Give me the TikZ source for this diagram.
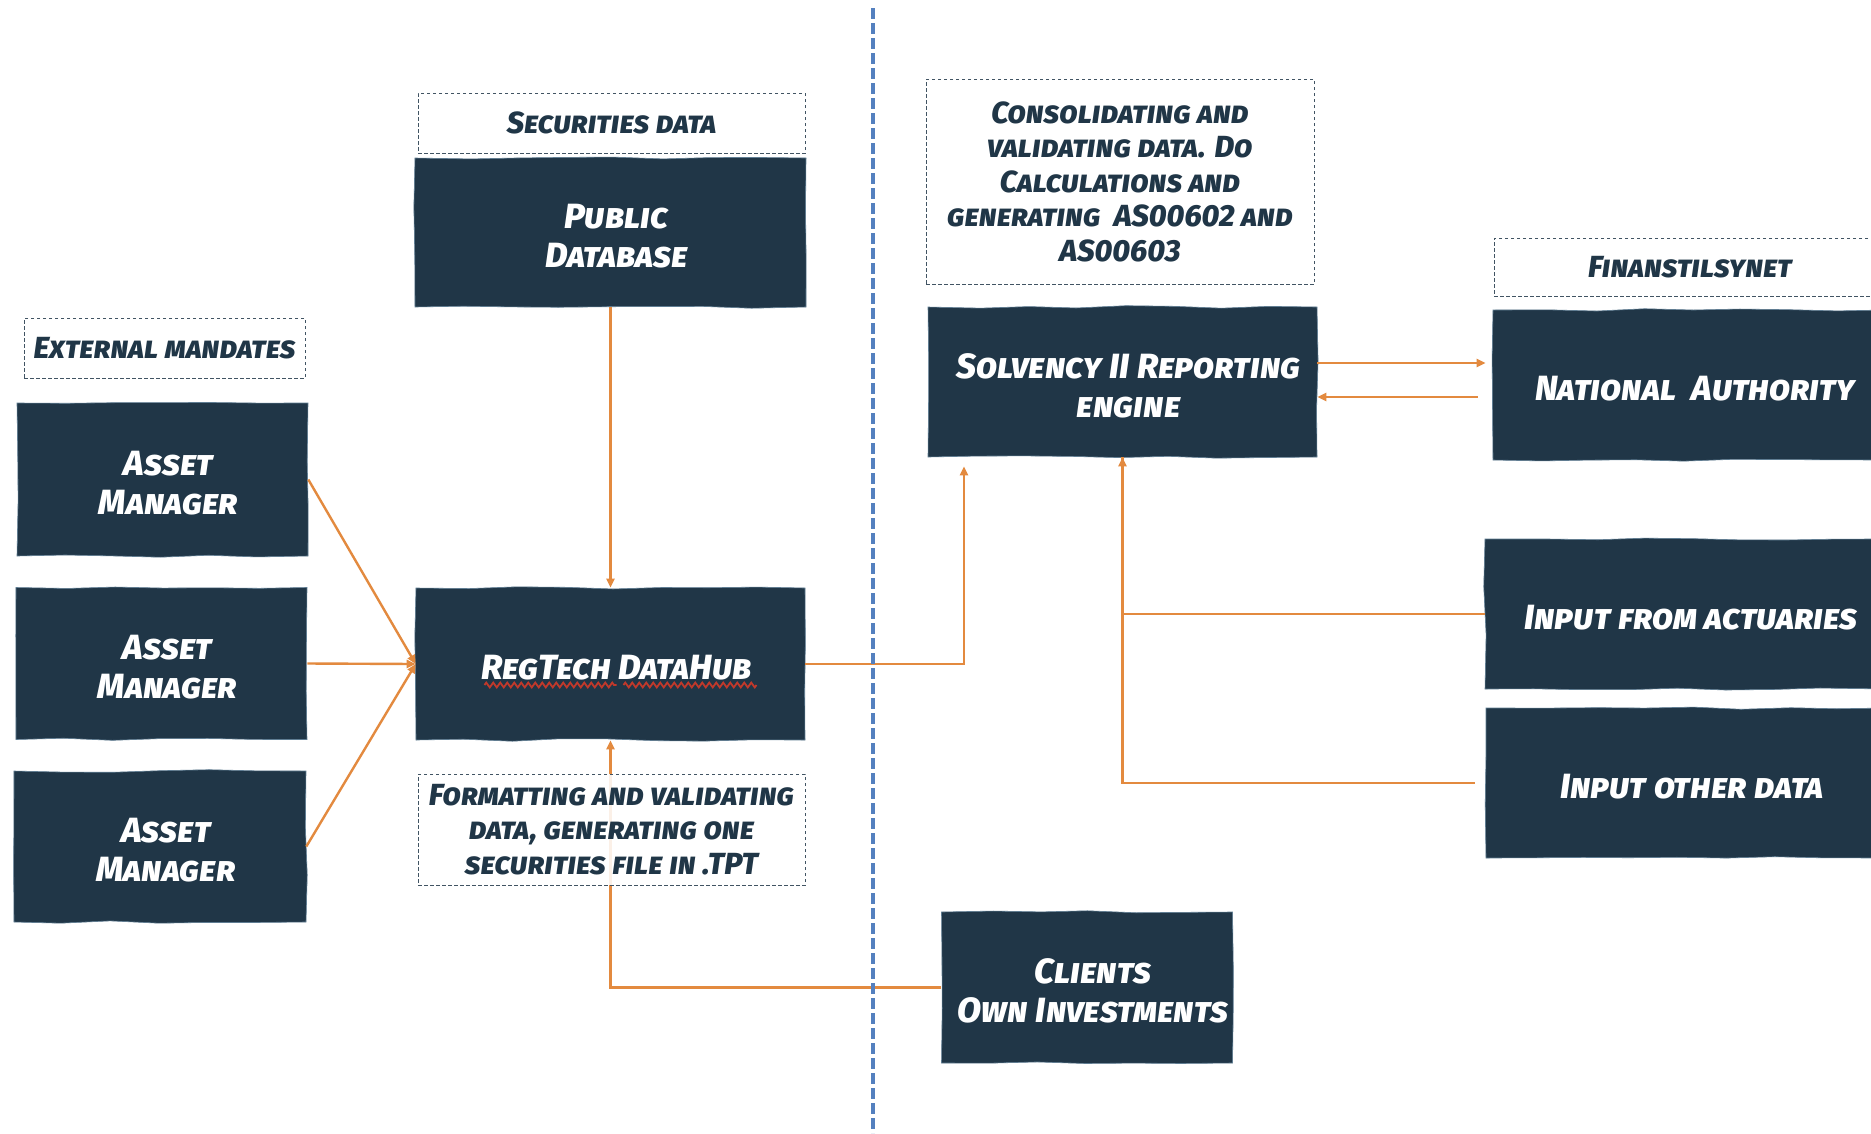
\documentclass[tikz,border=0pt]{standalone}
\usepackage{fontspec}
\usetikzlibrary{arrows.meta,decorations.pathmorphing}
\setmainfont[Letters=SmallCaps,BoldFont={Fira Sans ExtraBold Italic},Ligatures=NoCommon]{Fira Sans ExtraBold Italic}
\definecolor{navy}{HTML}{203647}
\definecolor{edge}{HTML}{5F7D93}
\definecolor{flow}{HTML}{E38A3F}
\definecolor{divider}{HTML}{5480BF}
\definecolor{squiggle}{HTML}{C0392B}
\newcommand{\inbox}[1]{\hspace*{12pt}\raisebox{-8pt}[\height][\depth]{\begin{tabular}{@{}c@{}}#1\end{tabular}}}
\tikzset{
  x=1pt,y=-1pt,
  darkbox/.style n args={2}{rectangle,minimum width=#1,minimum height=#2,inner sep=0pt,
    fill=navy,draw=edge,line width=.6pt,text=white,font=\fontsize{35}{39}\selectfont,
    decorate,decoration={random steps,segment length=48pt,amplitude=1.3pt}},
  notebox/.style n args={2}{rectangle,minimum width=#1,minimum height=#2,inner sep=0pt,
    draw=navy!85,dashed,dash pattern=on 3.5pt off 2.5pt,line width=.9pt,fill=white,fill opacity=.88,text opacity=1,
    text=navy,align=center,font=\fontsize{30.5}{34.5}\selectfont},
  conn/.style={draw=flow,line width=2.4pt,-{Triangle[length=9pt,width=8pt]}},
  plain/.style={draw=flow,line width=2.4pt},
  divide/.style={draw=divider,line width=3.4pt,dash pattern=on 11pt off 4pt},
  squig/.style={draw=squiggle,line width=1.8pt,decorate,decoration={zigzag,segment length=7pt,amplitude=2.4pt}}
}
\begin{document}
\begin{tikzpicture}
\useasboundingbox (0,0) rectangle (1871,1133);
\clip (0,0) rectangle (1871,1133);
\fill[white] (0,0) rectangle (1871,1133);
\pgfmathsetseed{4242}
% dark boxes
\node[darkbox={391pt}{149pt}] (pub) at (610.5,232.5) {\inbox{Public\\Database}};
\node[darkbox={291pt}{153pt}] (am1) at (162.5,479.5) {\inbox{Asset\\Manager}};
\node[darkbox={291pt}{152pt}] (am2) at (161.5,663.5) {\inbox{Asset\\Manager}};
\node[darkbox={292pt}{151pt}] (am3) at (160,846.5) {\inbox{Asset\\Manager}};
\node[darkbox={389pt}{152pt}] (reg) at (610.5,664) {\inbox{RegTech DataHub}};
\node[darkbox={389pt}{150pt}] (solv) at (1122.5,382) {\inbox{Solvency II Reporting\\engine}};
\node[darkbox={392pt}{150pt}] (nat) at (1689,385) {\inbox{National\ \ Authority}};
\node[darkbox={400pt}{150pt}] (act) at (1685,614) {\inbox{Input from actuaries}};
\node[darkbox={400pt}{150pt}] (oth) at (1686,783) {\inbox{Input other data}};
\node[darkbox={291pt}{151pt}] (cli) at (1087,987.5) {\inbox{Clients\\Own Investments}};
% connectors
\draw[conn] (pub.south) -- (reg.north);
\draw[conn] (am1.east) -- (reg.west);
\draw[conn] (am2.east) -- (reg.west);
\draw[conn] (am3.east) -- (reg.west);
\draw[conn] (reg.east) -| ([xshift=-158.5pt,yshift=-9pt]solv.south);
\draw[conn,shorten >=7pt] ([yshift=19pt]solv.east) -- ([yshift=22pt]nat.west);
\draw[conn,shorten <=15pt] ([yshift=-12pt]nat.west) -- ([yshift=-15pt]solv.east);
\draw[plain] (act.west) -| (solv.south);
\draw[conn,shorten <=11pt] (oth.west) -| (solv.south);
\draw[conn] (cli.west) -| (reg.south);
% notes
\node[notebox={387pt}{60pt}] (nsec) at (611.5,123) {Securities data};
\node[notebox={281pt}{60pt}] (next) at (164.5,348) {External mandates};
\node[notebox={387pt}{111pt}] (nfmt) at (611.5,829.5) {Formatting and validating\\data, generating one\\securities file in .TPT};
\node[notebox={388pt}{205pt}] (ncon) at (1120,181.5) {Consolidating and\\validating data. Do\\Calculations and\\generating\ \ AS00602 and\\AS00603};
\node[notebox={392pt}{58pt}] (nfin) at (1690,267) {Finanstilsynet};
% spell-check squiggle under the RegTech label
\coordinate (s1) at ([xshift=-126pt,yshift=-21pt]reg.center);
\coordinate (s2) at ([xshift=6pt,yshift=-21pt]reg.center);
\coordinate (s3) at ([xshift=13pt,yshift=-21pt]reg.center);
\coordinate (s4) at ([xshift=146pt,yshift=-21pt]reg.center);
\draw[squig] (s1) -- (s2);
\draw[squig] (s3) -- (s4);
% divider
\coordinate (dtop) at (873,8);
\coordinate (dbot) at (873,1133);
\draw[divide] (dtop) -- (dbot);
\end{tikzpicture}
\end{document}
